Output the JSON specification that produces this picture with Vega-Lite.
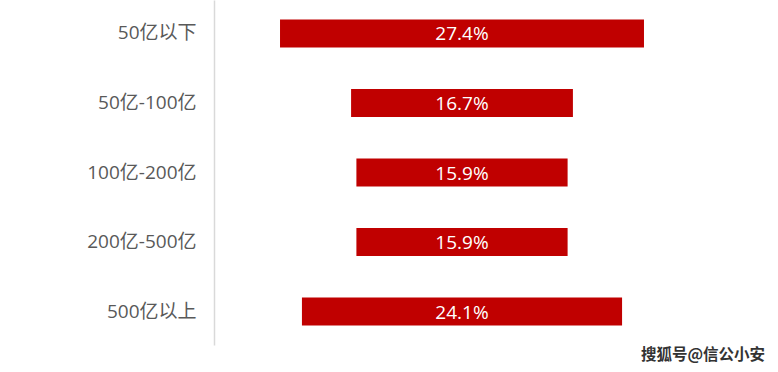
{
  "$schema": "https://vega.github.io/schema/vega-lite/v6.json",
  "width": 551,
  "height": 345,
  "autosize": "none",
  "padding": {"left": 214, "top": 0, "right": 13, "bottom": 27},
  "background": "white",
  "config": {"view": {"stroke": null}, "font": "Noto Sans CJK SC"},
  "title": {
    "text": "搜狐号@信公小安",
    "orient": "bottom",
    "anchor": "end",
    "fontSize": 15.5,
    "fontWeight": "bold",
    "color": "#333333",
    "font": "Noto Sans CJK SC",
    "offset": 3
  },
  "data": {
    "values": [
      {"cat": "50亿以下", "value": 27.4},
      {"cat": "50亿-100亿", "value": 16.7},
      {"cat": "100亿-200亿", "value": 15.9},
      {"cat": "200亿-500亿", "value": 15.9},
      {"cat": "500亿以上", "value": 24.1}
    ]
  },
  "transform": [
    {"stack": "value", "groupby": ["cat"], "offset": "center", "as": ["x0", "x1"]},
    {"calculate": "(datum.x0 + datum.x1) / 2", "as": "mid"},
    {"calculate": "format(datum.value, '.1f') + '%'", "as": "label"}
  ],
  "encoding": {
    "y": {
      "field": "cat",
      "type": "nominal",
      "sort": null,
      "scale": {"paddingInner": 0.597, "paddingOuter": 0.28},
      "axis": {
        "title": null,
        "ticks": false,
        "grid": false,
        "labelFontSize": 19,
        "labelColor": "#595959",
        "labelPadding": 18,
        "labelFont": "Open Sans, Noto Sans CJK SC",
        "domainColor": "#d9d9d9",
        "domainWidth": 1.5
      }
    }
  },
  "layer": [
    {
      "mark": {"type": "bar", "color": "#C00000"},
      "encoding": {
        "x": {"field": "x0", "type": "quantitative", "scale": {"domain": [-4.97, 36.51], "nice": false, "zero": false}, "axis": null},
        "x2": {"field": "x1"}
      }
    },
    {
      "mark": {"type": "text", "color": "white", "fontSize": 19, "font": "Open Sans, Noto Sans CJK SC", "dy": 1},
      "encoding": {
        "x": {"field": "mid", "type": "quantitative"},
        "text": {"field": "label", "type": "nominal"}
      }
    }
  ]
}
